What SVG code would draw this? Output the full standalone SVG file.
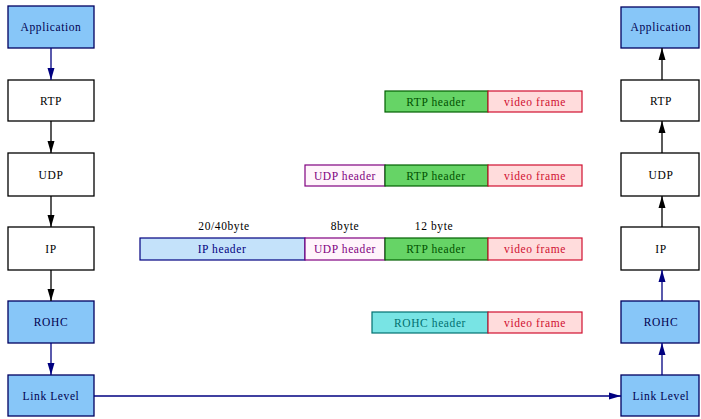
<svg xmlns="http://www.w3.org/2000/svg" width="701" height="419" viewBox="0 0 701 419">
<defs>
<marker id="ab" viewBox="0 0 12 8" refX="12" refY="4" markerWidth="12" markerHeight="8" markerUnits="userSpaceOnUse" orient="auto"><path d="M0,0.5 L12,4 L0,7.5 z" fill="#000"/></marker>
<marker id="an" viewBox="0 0 12 8" refX="12" refY="4" markerWidth="12" markerHeight="8" markerUnits="userSpaceOnUse" orient="auto"><path d="M0,0.5 L12,4 L0,7.5 z" fill="#000080"/></marker>
</defs>
<style>
text{font-family:"Liberation Serif","Times New Roman",serif;font-size:11.5px;letter-spacing:0.6px;text-anchor:middle}
.blue rect{fill:#87c6f8;stroke:#000060;stroke-width:1.3}
.blue text{fill:#000050}
.white rect{fill:#fff;stroke:#000;stroke-width:1.3}
.white text{fill:#000}
.cb{stroke:#000;stroke-width:1.3;fill:none}
.cn{stroke:#000080;stroke-width:1.3;fill:none}
.rtp rect{fill:#66d466;stroke:#006000;stroke-width:1.2}
.rtp text{fill:#005000}
.vid rect{fill:#ffdcdc;stroke:#d01030;stroke-width:1.2}
.vid text{fill:#d01030}
.udp rect{fill:#fff4fb;stroke:#800080;stroke-width:1.2}
.udp text{fill:#800080}
.ip rect{fill:#c4e2fa;stroke:#000080;stroke-width:1.2}
.ip text{fill:#000080}
.rohc rect{fill:#78e4e4;stroke:#007070;stroke-width:1.2}
.rohc text{fill:#007070}
.lbl{fill:#000}
</style>
<g id="left-application" class="blue"><rect x="8" y="6" width="86" height="42"/><text x="51" y="31">Application</text></g>
<g id="left-rtp" class="white"><rect x="8" y="80" width="86" height="41"/><text x="51" y="105">RTP</text></g>
<g id="left-udp" class="white"><rect x="8" y="153" width="86" height="43"/><text x="51" y="179">UDP</text></g>
<g id="left-ip" class="white"><rect x="8" y="227" width="86" height="43"/><text x="51" y="253">IP</text></g>
<g id="left-rohc" class="blue"><rect x="8" y="301" width="86" height="42"/><text x="51" y="326">ROHC</text></g>
<g id="left-link" class="blue"><rect x="8" y="375" width="86" height="41"/><text x="51" y="400">Link Level</text></g>
<g id="right-application" class="blue"><rect x="621" y="7" width="78" height="41"/><text x="661" y="31">Application</text></g>
<g id="right-rtp" class="white"><rect x="621" y="80" width="78" height="41"/><text x="661" y="105">RTP</text></g>
<g id="right-udp" class="white"><rect x="621" y="153" width="78" height="43"/><text x="661" y="179">UDP</text></g>
<g id="right-ip" class="white"><rect x="621" y="227" width="78" height="43"/><text x="661" y="253">IP</text></g>
<g id="right-rohc" class="blue"><rect x="621" y="301" width="78" height="42"/><text x="661" y="326">ROHC</text></g>
<g id="right-link" class="blue"><rect x="621" y="375" width="78" height="41"/><text x="661" y="400">Link Level</text></g>
<g id="connectors">
<line class="cn" x1="51" y1="48" x2="51" y2="80" marker-end="url(#an)"/>
<line class="cb" x1="51" y1="121" x2="51" y2="153" marker-end="url(#ab)"/>
<line class="cb" x1="51" y1="196" x2="51" y2="227" marker-end="url(#ab)"/>
<line class="cb" x1="51" y1="270" x2="51" y2="301" marker-end="url(#ab)"/>
<line class="cn" x1="51" y1="343" x2="51" y2="375" marker-end="url(#an)"/>
<line class="cn" x1="94" y1="396" x2="621" y2="396" marker-end="url(#an)"/>
<line class="cn" x1="662" y1="375" x2="662" y2="343" marker-end="url(#an)"/>
<line class="cn" x1="662" y1="301" x2="662" y2="270" marker-end="url(#an)"/>
<line class="cb" x1="662" y1="227" x2="662" y2="196" marker-end="url(#ab)"/>
<line class="cb" x1="662" y1="153" x2="662" y2="121" marker-end="url(#ab)"/>
<line class="cb" x1="662" y1="80" x2="662" y2="48" marker-end="url(#ab)"/>
</g>
<g id="packet-rtp">
<g class="rtp"><rect x="385" y="91" width="103" height="21"/><text x="436" y="106">RTP header</text></g>
<g class="vid"><rect x="488" y="91" width="94" height="21"/><text x="535" y="106">video frame</text></g>
</g>
<g id="packet-udp">
<g class="udp"><rect x="305" y="165" width="80" height="21"/><text x="345" y="180">UDP header</text></g>
<g class="rtp"><rect x="385" y="165" width="103" height="21"/><text x="436" y="180">RTP header</text></g>
<g class="vid"><rect x="488" y="165" width="94" height="21"/><text x="535" y="180">video frame</text></g>
</g>
<g id="packet-ip">
<text class="lbl" x="224" y="230">20/40byte</text>
<text class="lbl" x="345" y="230">8byte</text>
<text class="lbl" x="434" y="230">12 byte</text>
<g class="ip"><rect x="140" y="238" width="165" height="22"/><text x="222" y="253">IP header</text></g>
<g class="udp"><rect x="305" y="238" width="80" height="22"/><text x="345" y="253">UDP header</text></g>
<g class="rtp"><rect x="385" y="238" width="103" height="22"/><text x="436" y="253">RTP header</text></g>
<g class="vid"><rect x="488" y="238" width="94" height="22"/><text x="535" y="253">video frame</text></g>
</g>
<g id="packet-rohc">
<g class="rohc"><rect x="372" y="312" width="116" height="21"/><text x="430" y="327">ROHC header</text></g>
<g class="vid"><rect x="488" y="312" width="94" height="21"/><text x="535" y="327">video frame</text></g>
</g>
</svg>
